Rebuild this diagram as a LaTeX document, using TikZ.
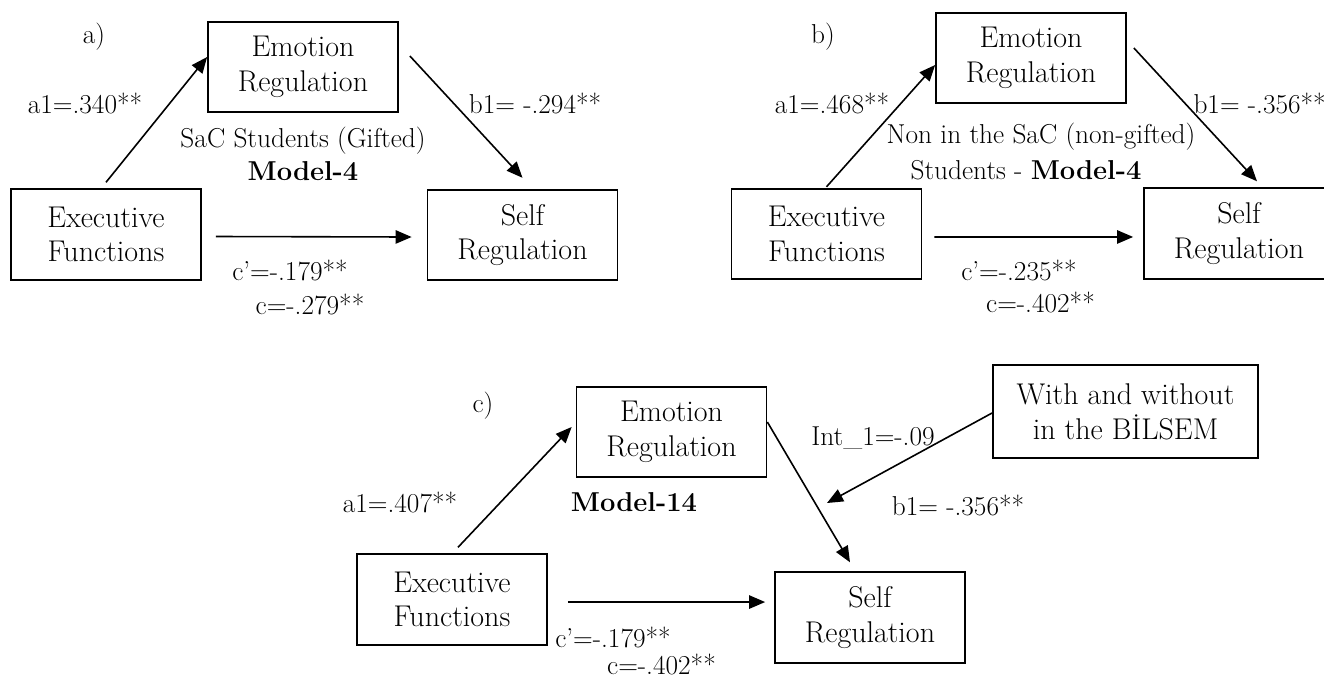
\documentclass[tikz,border=0pt]{standalone}
\usetikzlibrary{arrows.meta}

\tikzset{every picture/.style={line width=0.75pt}}

\begin{document}
\begin{tikzpicture}[x=0.75pt,y=0.75pt,yscale=-1,xscale=1,
  box/.style={draw, line width=1.3pt, inner sep=0pt, align=center, minimum width=142.5pt, minimum height=68pt, font=\fontsize{22.5}{26}\selectfont},
  lbl/.style={inner sep=0.75pt, align=center, font=\fontsize{20.5}{24.75}\selectfont},
  arr/.style={-{Triangle[length=12pt,width=10pt]}, line width=1.2pt}]
%set diagram left start at 0, and has height of 679
\useasboundingbox (0,0) rectangle (1324,679);

%%% a) SaC students
%Shape: Rectangle
\node [box] (er_a) at (303,67) {Emotion\\Regulation};
%Shape: Rectangle
\node [box] (ef_a) at (106,234.5) {Executive\\Functions};
%Shape: Rectangle
\node [box] (sr_a) at (522.5,235) {Self\\Regulation};
%Straight Lines
\draw [arr] ([yshift=-4.5pt]ef_a.north) -- ([yshift=-7.5pt]er_a.west) ;
%Straight Lines
\draw [arr] ([xshift=8.25pt,yshift=-8.25pt]er_a.east) -- ([yshift=-8.25pt]sr_a.north) ;
%Straight Lines
\draw [arr] ([xshift=10.5pt,yshift=1.5pt]ef_a.east) -- ([xshift=-11.25pt,yshift=1.5pt]sr_a.west) ;

% Text Node
\node [lbl] (tag_a) at (94,37) {a)};
% Text Node
\node [lbl] (a1_a) at (85,103) {a1=.340**};
% Text Node
\node [lbl] (grp_a) at (303,153.5) {SaC Students (Gifted)\\\textbf{Model-4}};
% Text Node
\node [lbl] (b1_a) at (535,103) {b1= -.294**};
% Text Node
\node [lbl] (cp_a) at (290,270) {c’=-.179**};
% Text Node
\node [lbl] (c_a) at (310,304) {c=-.279**};

%%% b) non-SaC students
%Shape: Rectangle
\node [box] (er_b) at (1031,58) {Emotion\\Regulation};
%Shape: Rectangle
\node [box] (ef_b) at (826.5,234) {Executive\\Functions};
%Shape: Rectangle
\node [box] (sr_b) at (1239,233.5) {Self\\Regulation};
%Straight Lines
\draw [arr] ([yshift=-0.75pt]ef_b.north) -- ([yshift=5.25pt]er_b.west) ;
%Straight Lines
\draw [arr] ([xshift=5.25pt,yshift=-7.5pt]er_b.east) -- ([xshift=13.5pt,yshift=-4.5pt]sr_b.north) ;
%Straight Lines
\draw [arr] ([xshift=9pt,yshift=2.25pt]ef_b.east) -- ([xshift=-7.5pt,yshift=2.6pt]sr_b.west) ;

% Text Node
\node [lbl] (tag_b) at (823,37) {b)};
% Text Node
\node [lbl] (a1_b) at (832,103) {a1=.468**};
% Text Node
\node [lbl] (grp_b) at (1041,137) {Non in the SaC (non-gifted)};
% Text Node
\node [lbl] (mdl_b) at (1026,170) {Students - \textbf{Model-4}};
% Text Node
\node [lbl, anchor=west] (b1_b) at (1192,103) {b1= -.356**};
% Text Node
\node [lbl] (cp_b) at (1019,270) {c’=-.235**};
% Text Node
\node [lbl] (c_b) at (1040.5,302) {c=-.402**};

%%% c) moderated model
%Shape: Rectangle
\node [box] (er_c) at (671.5,432) {Emotion\\Regulation};
%Shape: Rectangle
\node [box] (ef_c) at (452,599.5) {Executive\\Functions};
%Shape: Rectangle
\node [box] (sr_c) at (870,617.5) {Self\\Regulation};
%Shape: Rectangle
\node [box, minimum width=198.75pt, minimum height=69.5pt] (wb_c) at (1125.5,411.5) {With and without\\in the BİLSEM};
\coordinate (int_c) at (827,503) ;
%Straight Lines
\draw [arr] ([xshift=4.5pt,yshift=-4.5pt]ef_c.north) -- ([xshift=-3pt,yshift=-3.75pt]er_c.west) ;
%Straight Lines
\draw [arr] ([yshift=-7.5pt]er_c.east) -- ([xshift=-15pt,yshift=-6.75pt]sr_c.north) ;
%Straight Lines
\draw [arr] ([yshift=1.1pt]wb_c.west) -- (int_c) ;
%Straight Lines
\draw [arr] ([xshift=15pt,yshift=1.9pt]ef_c.east) -- ([xshift=-6.75pt,yshift=-11.6pt]sr_c.west) ;

% Text Node
\node [lbl] (tag_c) at (483,406) {c)};
% Text Node
\node [lbl] (a1_c) at (400,502) {a1=.407**};
% Text Node
\node [lbl] (mdl_c) at (634,502) {\textbf{Model-14}};
% Text Node
\node [lbl] (int_lbl) at (873,438) {Int\_1=-.09};
% Text Node
\node [lbl] (b1_c) at (958,505) {b1= -.356**};
% Text Node
\node [lbl] (cp_c) at (613,637) {c’=-.179**};
% Text Node
\node [lbl] (c_c) at (661.5,664) {c=-.402**};

\end{tikzpicture}
\end{document}
